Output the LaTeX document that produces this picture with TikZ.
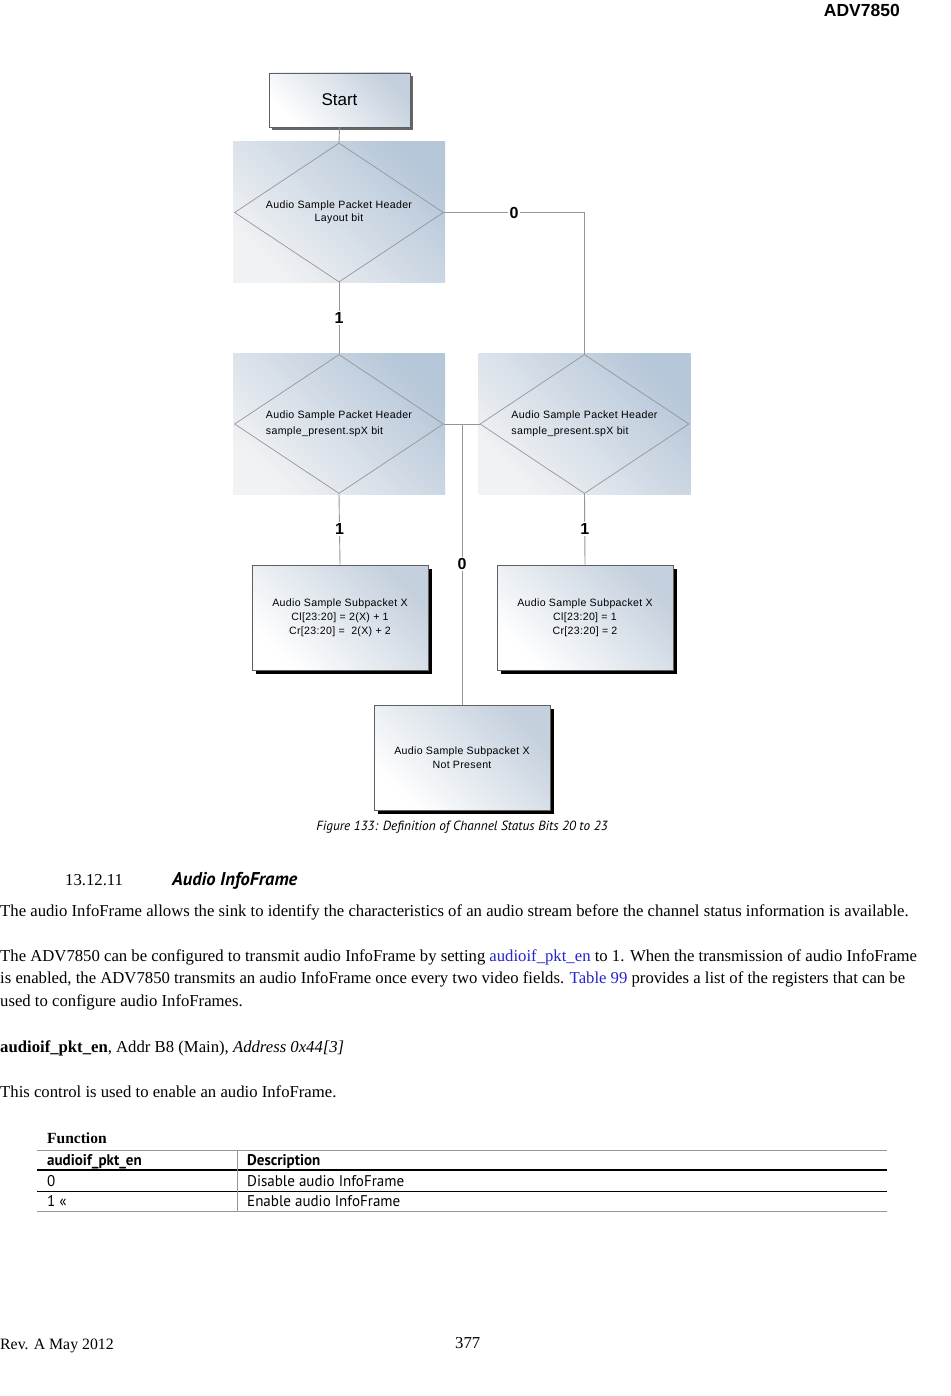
\documentclass[tikz,border=0pt]{standalone}
\usepackage{fontspec}
\setmainfont{Liberation Serif}
\newfontfamily\chartfont[LetterSpace=3]{Liberation Sans}
\newfontfamily\headfont{Liberation Sans}
\newfontfamily\docsans{PT Sans}
\newfontfamily\tabfont[FakeStretch=0.97]{PT Sans}
\usetikzlibrary{shapes.geometric,shadows,calc}
\definecolor{flowgray}{RGB}{150,150,150}
\definecolor{edgegray}{RGB}{95,95,95}
\definecolor{steelblue}{RGB}{182,199,217}
\definecolor{boxblue}{RGB}{196,208,221}
\definecolor{palegray}{RGB}{241,242,244}
\definecolor{linkblue}{RGB}{35,35,205}
\definecolor{rulegray}{RGB}{150,150,150}
\tikzset{
    decbg/.style={rectangle,draw=none,inner sep=0pt,minimum width=212pt,minimum height=141pt,
        bottom color=palegray,top color=steelblue,shading angle=-45},
    decision/.style={diamond,draw=flowgray,line width=0.7pt,inner sep=0pt,shape aspect=1.6,
        minimum width=209pt,minimum height=139pt,font=\chartfont\fontsize{10.6}{13}\selectfont},
    procbox/.style={rectangle,draw=edgegray,line width=0.8pt,minimum width=176pt,minimum height=105pt,
        bottom color=white,top color=boxblue,shading angle=-45,align=center,
        general shadow={fill=black,shadow xshift=4pt,shadow yshift=-4pt},
        font=\chartfont\fontsize{10.6}{14}\selectfont},
    startbox/.style={rectangle,draw=edgegray,line width=0.8pt,minimum width=141pt,minimum height=54pt,
        bottom color=white,top color=boxblue,shading angle=-45,
        general shadow={fill=black!60,shadow xshift=3pt,shadow yshift=-3pt},
        font=\headfont\fontsize{17}{17}\selectfont},
    flowline/.style={draw=flowgray,line width=0.9pt},
    branchlabel/.style={fill=white,inner sep=1.5pt,font=\headfont\bfseries\fontsize{16}{16}\selectfont},
    bodytext/.style={anchor=base west,inner sep=0pt,font=\fontsize{16.7}{20}\selectfont},
    tabtext/.style={anchor=base west,inner sep=0pt,font=\tabfont\fontsize{15.5}{18}\selectfont}
}

\begin{document}
\begin{tikzpicture}[x=1pt,y=-1pt]
    \useasboundingbox[fill=white] (0,0) rectangle (950,1396);
    % Page header
    \node[anchor=base east,inner sep=0pt,font=\headfont\bfseries\fontsize{17.5}{17}\selectfont] (pagehead) at (900,17) {ADV7850};
    % Flow chart
    \node[startbox] (start) at (339.5,100) {Start};
    \node[decbg] (layoutbg) at (339,212.5) {};
    \node[decision,align=center] (layout) at (339,212.5) {Audio Sample Packet Header\\Layout bit};
    \node[decbg] (presLbg) at (339,424) {};
    \node[decision,align=left] (presL) at (339,424) {Audio Sample Packet Header\\[3pt]sample\_present.spX bit};
    \node[decbg] (presRbg) at (584.5,424) {};
    \node[decision,align=left] (presR) at (584.5,424) {Audio Sample Packet Header\\[3pt]sample\_present.spX bit};
    \node[procbox] (subL) at (340,617.5) {Audio Sample Subpacket X\\Cl[23:20] = 2(X) + 1\\Cr[23:20] = \ 2(X) + 2};
    \node[procbox] (subR) at (585,617.5) {Audio Sample Subpacket X\\Cl[23:20] = 1\\Cr[23:20] = 2};
    \node[procbox] (absent) at (462,757.5) {Audio Sample Subpacket X\\Not Present};
    % Connectors
    \draw[flowline] (start.south) -- (layout.north);
    \draw[flowline] (layout.south) -- node[branchlabel] {1} (presL.north);
    \draw[flowline] (layout.east) -| node[branchlabel,pos=0.25] {0} (presR.north);
    \draw[flowline] (presL.east) -- (presR.west);
    \draw[flowline] (absent.north |- presL.east) -- node[branchlabel] {0} (absent.north);
    \draw[flowline] (presL.south) -- node[branchlabel] {1} (subL.north);
    \draw[flowline] (presR.south) -- node[branchlabel] {1} (subR.north);
    \node[anchor=base,inner sep=0pt,font=\docsans\itshape\fontsize{13.3}{14}\selectfont] (caption) at (462,830) {Figure 133: Definition of Channel Status Bits 20 to 23};
    % Section text
    \node[bodytext] (secnum) at (65,885) {13.12.11};
    \node[anchor=base west,inner sep=0pt,font=\docsans\bfseries\itshape\fontsize{18.5}{18}\selectfont] (sectitle) at (172,885) {Audio InfoFrame};
    \node[bodytext] (paraA) at (0,916) {The audio InfoFrame allows the sink to identify the characteristics of an audio stream before the channel status information is available.};
    \node[bodytext] (paraB) at (0,961) {The ADV7850 can be configured to transmit audio InfoFrame by setting \textcolor{linkblue}{audioif\_pkt\_en} to 1. When the transmission of audio InfoFrame};
    \node[bodytext] (paraC) at (0,983) {is enabled, the ADV7850 transmits an audio InfoFrame once every two video fields. \textcolor{linkblue}{Table 99} provides a list of the registers that can be};
    \node[bodytext] (paraD) at (0,1006) {used to configure audio InfoFrames.};
    \node[bodytext] (regline) at (0,1052) {\textbf{audioif\_pkt\_en}, Addr B8 (Main), \textit{Address 0x44[3]}};
    \node[bodytext] (regnote) at (0,1097) {This control is used to enable an audio InfoFrame.};
    % Function table
    \node[bodytext,font=\bfseries\fontsize{15.5}{18}\selectfont] (tabtitle) at (47,1143) {Function};
    \draw[rulegray,line width=0.8pt] (37,1150) -- (887,1150);
    \draw[black,line width=1.8pt] (37,1170) -- (887,1170);
    \draw[black,line width=1pt] (37,1191) -- (887,1191);
    \draw[rulegray,line width=1pt] (37,1211) -- (887,1211);
    \draw[rulegray,line width=0.8pt] (237,1150) -- (237,1211);
    \node[tabtext,font=\tabfont\bfseries\fontsize{15.5}{18}\selectfont] (colA) at (47,1165) {audioif\_pkt\_en};
    \node[tabtext,font=\tabfont\bfseries\fontsize{15.5}{18}\selectfont] (colB) at (247,1165) {Description};
    \node[tabtext] (valA) at (47,1186) {0};
    \node[tabtext] (descA) at (247,1186) {Disable audio InfoFrame};
    \node[tabtext] (valB) at (47,1206) {1 «};
    \node[tabtext] (descB) at (247,1206) {Enable audio InfoFrame};
    % Page footer
    \node[bodytext,font=\fontsize{15.8}{18}\selectfont] (revision) at (0,1349) {Rev. A May 2012};
    \node[bodytext] (pagenum) at (455,1348) {377};
\end{tikzpicture}
\end{document}
